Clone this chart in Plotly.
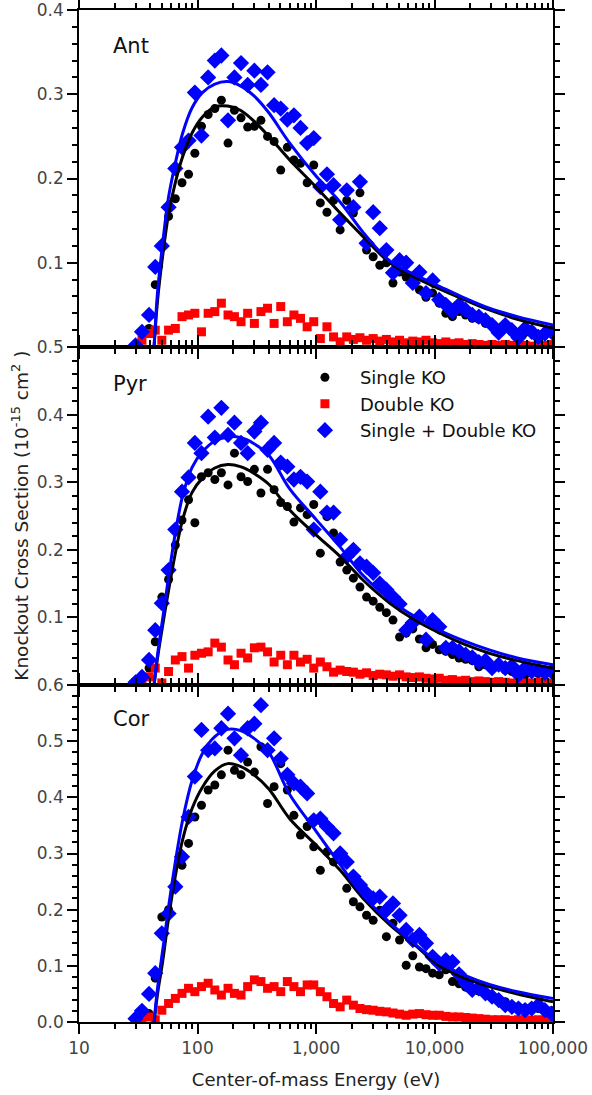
import plotly.graph_objects as go

# ---------------- data ----------------
energy_eV = [30, 34, 39, 44, 50, 57, 65, 74, 84, 95, 108, 123, 140, 159, 181, 205,
             233, 265, 302, 343, 390, 443, 504, 573, 651, 740, 842, 957, 1088, 1237,
             1406, 1599, 1818, 2067, 2350, 2671, 3037, 3453, 3926, 4463, 5074, 5769,
             6559, 7457, 8478, 9640, 10960, 12460, 14170, 16110, 18310, 20820, 23670,
             26910, 30600, 34790, 39550, 44970, 51130, 58130, 66090, 75140, 85430, 97130]

ant_single = [None, None, 0.022, 0.074, 0.12, 0.155, 0.176, 0.195, 0.205, 0.23, 0.262, 0.276,
              0.283, 0.293, 0.242, 0.281, 0.272, 0.261, 0.262, 0.269, 0.25, 0.244, 0.21, 0.237,
              0.222, 0.218, 0.195, 0.216, 0.171, 0.16, 0.174, 0.139, 0.174, 0.159, 0.183, 0.115,
              0.107, 0.097, 0.1, 0.076, 0.089, 0.083, 0.079, 0.068, 0.059, 0.064, 0.052, 0.04,
              0.036, 0.042, 0.038, 0.034, 0.033, 0.028, 0.026, 0.02, 0.024, 0.018, 0.013, 0.017,
              0.02, 0.014, 0.016, 0.017]
ant_double = [None, 0.008, 0.016, 0.02, 0.008, 0.02, 0.022, 0.036, 0.038, 0.04, 0.018, 0.04,
              0.042, 0.052, 0.038, 0.036, 0.03, 0.04, 0.028, 0.042, 0.046, 0.028, 0.048, 0.03,
              0.038, 0.034, 0.024, 0.03, 0.01, 0.024, 0.012, 0.006, 0.012, 0.009, 0.011, 0.008,
              0.01, 0.007, 0.009, 0.006, 0.008, 0.005, 0.007, 0.006, 0.008, 0.005, 0.004, 0.006,
              0.004, 0.005, 0.003, 0.004, 0.003, 0.002, 0.003, 0.002, 0.003, 0.002, 0.003, 0.002,
              0.001, 0.002, 0.002, 0.003]
ant_total = [0.002, 0.018, 0.038, 0.095, 0.12, 0.166, 0.212, 0.237, 0.245, 0.302, 0.251, 0.32,
             0.34, 0.346, 0.269, 0.32, 0.337, 0.311, 0.328, 0.311, 0.326, 0.287, 0.283, 0.27,
             0.275, 0.26, 0.242, 0.248, 0.19, 0.205, 0.192, 0.151, 0.186, 0.166, 0.196, 0.123,
             0.16, 0.141, 0.115, 0.088, 0.103, 0.1, 0.076, 0.089, 0.064, 0.079, 0.056, 0.05,
             0.042, 0.05, 0.044, 0.038, 0.036, 0.032, 0.026, 0.017, 0.026, 0.02, 0.011, 0.022,
             0.018, 0.012, 0.016, 0.018]

pyr_single = [None, None, 0.025, 0.064, 0.13, 0.156, 0.207, 0.244, 0.274, 0.24, 0.308, 0.314,
              0.304, 0.314, 0.296, 0.343, 0.308, 0.301, 0.319, 0.284, 0.319, 0.289, 0.27, 0.264,
              0.241, 0.262, 0.252, 0.267, 0.195, 0.249, 0.225, 0.182, 0.17, 0.158, 0.145, 0.13,
              0.124, 0.115, 0.107, 0.096, 0.071, 0.077, 0.083, 0.068, 0.055, 0.06, 0.052, 0.05,
              0.045, 0.04, 0.038, 0.036, 0.027, 0.03, 0.028, 0.027, 0.022, 0.02, 0.018, 0.015,
              0.02, 0.017, 0.016, 0.018]
pyr_double = [0.003, 0.005, 0.012, 0.025, 0.003, 0.02, 0.037, 0.042, 0.025, 0.044, 0.047, 0.049,
              0.062, 0.056, 0.037, 0.03, 0.047, 0.04, 0.055, 0.056, 0.049, 0.034, 0.044, 0.03,
              0.044, 0.034, 0.038, 0.025, 0.034, 0.027, 0.019, 0.022, 0.02, 0.019, 0.016, 0.018,
              0.014, 0.016, 0.015, 0.013, 0.015, 0.012, 0.011, 0.012, 0.01, 0.009, 0.01, 0.007,
              0.008, 0.006, 0.007, 0.005, 0.006, 0.005, 0.004, 0.005, 0.004, 0.003, 0.004, 0.003,
              0.003, 0.004, 0.003, 0.003]
pyr_total = [0.004, 0.012, 0.037, 0.081, 0.121, 0.17, 0.23, 0.286, 0.307, 0.358, 0.343, 0.397,
             0.366, 0.41, 0.37, 0.388, 0.358, 0.343, 0.375, 0.388, 0.348, 0.358, 0.329, 0.323,
             0.304, 0.308, 0.301, 0.23, 0.286, 0.255, 0.255, 0.215, 0.19, 0.2, 0.18, 0.175,
             0.166, 0.15, 0.141, 0.13, 0.12, 0.081, 0.092, 0.101, 0.067, 0.096, 0.086, 0.055,
             0.055, 0.05, 0.045, 0.041, 0.034, 0.036, 0.025, 0.03, 0.025, 0.028, 0.015, 0.025,
             0.02, 0.022, 0.018, 0.02]

cor_single = [None, None, 0.015, 0.078, 0.187, 0.2, 0.244, 0.279, 0.318, 0.365, 0.386, 0.413,
              0.422, 0.44, 0.484, 0.448, 0.44, 0.463, 0.445, 0.49, 0.389, 0.419, 0.46, 0.413,
              0.368, 0.333, 0.348, 0.312, 0.27, 0.303, 0.285, 0.3, 0.238, 0.214, 0.205, 0.19,
              0.181, 0.199, 0.152, 0.176, 0.146, 0.101, 0.118, 0.098, 0.095, 0.087, 0.084, 0.093,
              0.072, 0.068, 0.062, 0.057, 0.055, 0.05, 0.044, 0.04, 0.036, 0.03, 0.027, 0.025,
              0.027, 0.024, 0.021, 0.02]
cor_double = [None, 0.004, 0.009, 0.004, 0.021, 0.033, 0.042, 0.051, 0.06, 0.054, 0.063, 0.069,
              0.057, 0.048, 0.06, 0.051, 0.048, 0.063, 0.075, 0.072, 0.06, 0.063, 0.054, 0.072,
              0.063, 0.054, 0.066, 0.066, 0.054, 0.045, 0.033, 0.027, 0.039, 0.03, 0.024, 0.022,
              0.021, 0.019, 0.018, 0.016, 0.014, 0.012, 0.014, 0.015, 0.013, 0.012, 0.012, 0.01,
              0.009, 0.009, 0.008, 0.007, 0.006, 0.005, 0.004, 0.004, 0.004, 0.003, 0.004, 0.004,
              0.003, 0.004, 0.003, 0.004]
cor_total = [0.006, 0.02, 0.05, 0.087, 0.158, 0.193, 0.241, 0.294, 0.365, 0.437, 0.52, 0.484,
             0.487, 0.523, 0.549, 0.505, 0.475, 0.523, 0.531, 0.564, 0.484, 0.505, 0.469, 0.44,
             0.425, 0.419, 0.407, 0.359, 0.362, 0.348, 0.336, 0.3, 0.285, 0.259, 0.244, 0.229,
             0.22, 0.223, 0.199, 0.211, 0.19, 0.164, 0.146, 0.155, 0.14, 0.116, 0.104, 0.11,
             0.107, 0.085, 0.069, 0.057, 0.06, 0.051, 0.045, 0.039, 0.03, 0.027, 0.024, 0.021,
             0.024, 0.03, 0.021, 0.015]

# fitted curves
fit_energy = [43, 46, 51, 57, 65, 75, 90, 110, 140, 180, 230, 300, 400, 600, 1000, 1600,
              2500, 4200, 7000, 11000, 18000, 29000, 50000, 100000]
ant_fit_single = [0.0, 0.055, 0.11, 0.158, 0.195, 0.226, 0.254, 0.273, 0.285, 0.286, 0.281,
                  0.268, 0.25, 0.222, 0.19, 0.159, 0.131, 0.1, 0.082, 0.069, 0.056, 0.044,
                  0.033, 0.0225]
ant_fit_total = [0.0, 0.065, 0.125, 0.178, 0.218, 0.254, 0.284, 0.302, 0.312, 0.315, 0.31,
                 0.298, 0.278, 0.242, 0.203, 0.172, 0.136, 0.102, 0.085, 0.072, 0.058, 0.046,
                 0.036, 0.026]
pyr_fit_single = [0.0, 0.04, 0.09, 0.14, 0.195, 0.245, 0.285, 0.306, 0.321, 0.326, 0.323,
                  0.313, 0.297, 0.259, 0.222, 0.19, 0.155, 0.121, 0.095, 0.077, 0.06, 0.047,
                  0.036, 0.025]
pyr_fit_total = [0.0, 0.045, 0.1, 0.16, 0.225, 0.28, 0.322, 0.345, 0.361, 0.367, 0.366,
                 0.357, 0.34, 0.29, 0.245, 0.204, 0.162, 0.126, 0.1, 0.081, 0.065, 0.052,
                 0.04, 0.03]
cor_fit_single = [0.0, 0.05, 0.11, 0.185, 0.26, 0.325, 0.38, 0.418, 0.447, 0.46, 0.455,
                  0.44, 0.415, 0.362, 0.315, 0.27, 0.22, 0.173, 0.135, 0.1, 0.078, 0.063,
                  0.05, 0.036]
cor_fit_total = [0.0, 0.06, 0.13, 0.205, 0.285, 0.36, 0.43, 0.478, 0.508, 0.521, 0.519,
                 0.505, 0.48, 0.405, 0.34, 0.28, 0.225, 0.177, 0.137, 0.105, 0.083, 0.067,
                 0.054, 0.042]

panel_names = ["Ant", "Pyr", "Cor"]
series_names = ["Single KO", "Double KO", "Single + Double KO"]
x_tick_vals = [10, 100, 1000, 10000, 100000]
x_tick_text = ["10", "100", "1,000", "10,000", "100,000"]

# ---------------- figure ----------------
FONT = "DejaVu Sans"
BLACK = "#000000"
RED = "#ff0000"
BLUE = "#0000ff"

panels = [
    (ant_single, ant_double, ant_total, ant_fit_single, ant_fit_total),
    (pyr_single, pyr_double, pyr_total, pyr_fit_single, pyr_fit_total),
    (cor_single, cor_double, cor_total, cor_fit_single, cor_fit_total),
]

fig = go.Figure()
for i, (s, d, t, fs, ft) in enumerate(panels):
    xa = "x" if i == 0 else f"x{i+1}"
    ya = "y" if i == 0 else f"y{i+1}"
    show = (i == 0)
    fig.add_trace(go.Scatter(x=energy_eV, y=s, mode="markers", name=series_names[0],
                             marker=dict(symbol="circle", size=9, color=BLACK),
                             xaxis=xa, yaxis=ya, showlegend=show, legendrank=1))
    fig.add_trace(go.Scatter(x=energy_eV, y=d, mode="markers", name=series_names[1],
                             marker=dict(symbol="square", size=9, color=RED),
                             xaxis=xa, yaxis=ya, showlegend=show, legendrank=2))
    fig.add_trace(go.Scatter(x=energy_eV, y=t, mode="markers", name=series_names[2],
                             marker=dict(symbol="diamond", size=12.5, color=BLUE),
                             xaxis=xa, yaxis=ya, showlegend=show, legendrank=3))
    fig.add_trace(go.Scatter(x=fit_energy, y=fs, mode="lines", line=dict(color=BLACK, width=3, shape="spline"),
                             xaxis=xa, yaxis=ya, showlegend=False, hoverinfo="skip"))
    fig.add_trace(go.Scatter(x=fit_energy, y=ft, mode="lines", line=dict(color=BLUE, width=3, shape="spline"),
                             xaxis=xa, yaxis=ya, showlegend=False, hoverinfo="skip"))

minor_x = [m * 10 ** k for k in range(1, 5) for m in range(2, 10)]

def xaxis_cfg(show_labels):
    return dict(type="log", range=[1, 5], showline=True, linecolor=BLACK, linewidth=1.5,
                mirror="ticks", ticks="outside", ticklen=10, tickwidth=1.5, tickcolor=BLACK,
                tickmode="array", tickvals=x_tick_vals, ticktext=x_tick_text,
                showticklabels=show_labels, showgrid=False, zeroline=False, automargin=False,
                ticklabeloverflow="allow",
                tickfont=dict(family=FONT, size=17, color="#444444"),
                minor=dict(tickmode="array", tickvals=minor_x, ticks="outside", ticklen=5,
                           tickwidth=1.5, tickcolor=BLACK, showgrid=False))

def yaxis_cfg(top, domain, show_zero):
    start = 0 if show_zero else 1
    vals = [round(v * 0.1, 1) for v in range(start, int(round(top * 10)) + 1)]
    text = [f"{v:.1f}" for v in vals]
    return dict(range=[0, top], domain=domain, showline=True, linecolor=BLACK, linewidth=1.5,
                mirror="ticks", ticks="outside", ticklen=10, tickwidth=1.5, tickcolor=BLACK,
                tickmode="array", tickvals=vals, ticktext=text, showgrid=False, zeroline=False,
                automargin=False, ticklabeloverflow="allow",
                tickfont=dict(family=FONT, size=17, color="#444444"),
                minor=dict(dtick=0.02, tick0=0, ticks="outside", ticklen=5, tickwidth=1.5,
                           tickcolor=BLACK, showgrid=False))

d1, d2 = 337 / 1012, 675 / 1012
x1 = xaxis_cfg(False); x1["anchor"] = "y"; x1["matches"] = "x3"
x2 = xaxis_cfg(False); x2["anchor"] = "y2"; x2["matches"] = "x3"
x3 = xaxis_cfg(True); x3["anchor"] = "y3"
x3["title"] = dict(text="Center-of-mass Energy (eV)", font=dict(family=FONT, size=18, color="#222222"),
                   standoff=16)

y1 = yaxis_cfg(0.4, [d2, 1.0], False); y1["anchor"] = "x"
y2 = yaxis_cfg(0.5, [d1, d2], False); y2["anchor"] = "x2"
y3 = yaxis_cfg(0.6, [0.0, d1], True); y3["anchor"] = "x3"

fig.update_layout(
    width=592, height=1095,
    margin=dict(l=79, r=39, t=10, b=73),
    paper_bgcolor="white", plot_bgcolor="white",
    font=dict(family=FONT, size=17, color="#222222"),
    xaxis=x1, xaxis2=x2, xaxis3=x3,
    yaxis=y1, yaxis2=y2, yaxis3=y3,
    legend=dict(x=0.445, y=0.655, xanchor="left", yanchor="top", bgcolor="rgba(0,0,0,0)",
                itemwidth=60, font=dict(family=FONT, size=18, color="#111111"),
                traceorder="normal"),
    annotations=[
        dict(text="Knockout Cross Section (10<sup>-15</sup> cm<sup>2</sup> )", textangle=-90,
             xref="paper", yref="paper", x=-0.125, y=0.5, xanchor="center", yanchor="middle",
             showarrow=False, font=dict(family=FONT, size=18.5, color="#222222")),
    ] + [
        dict(text=name, xref="paper", yref="paper", x=0.067, y=yy, xanchor="left",
             yanchor="middle", showarrow=False, font=dict(family=FONT, size=21, color="#111111"))
        for name, yy in zip(panel_names, [0.964, 0.630, 0.299])
    ],
)

fig.write_html("out.html", config={"displayModeBar": False},
               post_script="document.body.style.margin='0';")
